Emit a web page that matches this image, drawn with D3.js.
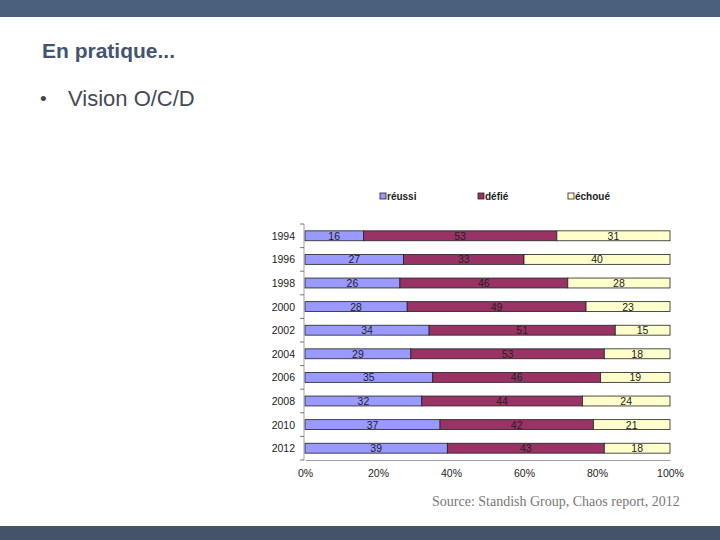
<!DOCTYPE html>
<html><head><meta charset="utf-8">
<script src="https://cdn.jsdelivr.net/npm/d3@7"></script>
<style>body{margin:0;background:#fff}svg{display:block}</style>
</head><body>
<svg id="c" width="720" height="540"></svg>
<script>
const years = ["1994","1996","1998","2000","2002","2004","2006","2008","2010","2012"];
const reussi = [16,27,26,28,34,29,35,32,37,39];
const defie = [53,33,46,49,51,53,46,44,42,43];
const echoue = [31,40,28,23,15,18,19,24,21,18];
const seriesNames = ["réussi","défié","échoué"];
const seriesColors = ["#9999ff","#993366","#ffffcc"];
const xTicks = [0,20,40,60,80,100];

const svg = d3.select("#c");
svg.append("rect").attr("x",0).attr("y",0).attr("width",720).attr("height",17).attr("fill","#4a607d");
svg.append("rect").attr("x",0).attr("y",526).attr("width",720).attr("height",14).attr("fill","#44536a");
svg.append("text").attr("x",42).attr("y",58).attr("font-family","Liberation Sans, Arial").attr("font-size",21).attr("font-weight","bold").attr("fill","#44546e").text("En pratique...");
svg.append("text").attr("x",40).attr("y",105).attr("font-family","Liberation Sans, Arial").attr("font-size",19).attr("fill","#444").text("•");
svg.append("text").attr("x",68).attr("y",106).attr("font-family","Liberation Sans, Arial").attr("font-size",22).attr("fill","#454a55").text("Vision O/C/D");
svg.append("text").attr("x",432).attr("y",506).attr("font-family","Liberation Serif, Times New Roman").attr("font-size",14).attr("fill","#777").text("Source: Standish Group, Chaos report, 2012");

const x = d3.scaleLinear().domain([0,100]).range([305,670]);
const y = d3.scaleBand().domain(years).range([224,460]).paddingInner(0.58).paddingOuter(0.29);

const data = years.map((yr,i)=>({year:yr,"réussi":reussi[i],"défié":defie[i],"échoué":echoue[i]}));
const stack = d3.stack().keys(seriesNames)(data);

const g = svg.append("g");
stack.forEach((s,si)=>{
  g.selectAll(null).data(s).enter().append("rect")
    .attr("x",d=>x(d[0])).attr("width",d=>x(d[1])-x(d[0]))
    .attr("y",d=>y(d.data.year)).attr("height",y.bandwidth())
    .attr("fill",seriesColors[si]).attr("stroke","#222").attr("stroke-width",0.8);
  g.selectAll(null).data(s).enter().append("text")
    .attr("x",d=>(x(d[0])+x(d[1]))/2).attr("y",d=>y(d.data.year)+y.bandwidth()/2+4)
    .attr("text-anchor","middle").attr("font-family","Liberation Sans, Arial").attr("font-size",10.5).attr("fill","#222")
    .text(d=>d[1]-d[0]);
});

// y axis
const yAxisG = svg.append("g").attr("transform","translate(304,0)");
yAxisG.append("line").attr("x1",0).attr("x2",0).attr("y1",224).attr("y2",460).attr("stroke","#888").attr("stroke-width",0.8);
const bounds = d3.range(years.length+1).map(i=>224+i*(236/years.length));
yAxisG.selectAll(null).data(bounds).enter().append("line").attr("x1",-4).attr("x2",0).attr("y1",d=>d).attr("y2",d=>d).attr("stroke","#555").attr("stroke-width",0.8);
svg.selectAll(null).data(years).enter().append("text").attr("x",295).attr("y",d=>y(d)+y.bandwidth()/2+4)
  .attr("text-anchor","end").attr("font-family","Liberation Sans, Arial").attr("font-size",10.5).attr("fill","#222").text(d=>d);

// x axis
const xAxis = d3.axisBottom(x).tickValues(xTicks).tickFormat(d=>d+"%").tickSize(0).tickPadding(10);
const xg = svg.append("g").attr("transform","translate(0,460)").call(xAxis);
xg.select(".domain").attr("stroke","#888").attr("stroke-width",0.8);
xg.selectAll("text").attr("font-family","Liberation Sans, Arial").attr("font-size",10.5).attr("fill","#222");

// legend
const legX = [380,478,568];
seriesNames.forEach((n,i)=>{
  svg.append("rect").attr("x",legX[i]).attr("y",193).attr("width",6).attr("height",6).attr("fill",seriesColors[i]).attr("stroke","#222").attr("stroke-width",0.8);
  svg.append("text").attr("x",legX[i]+7).attr("y",200).attr("font-family","Liberation Sans, Arial").attr("font-size",10).attr("font-weight","bold").attr("fill","#222").text(n);
});
</script>
</body></html>
